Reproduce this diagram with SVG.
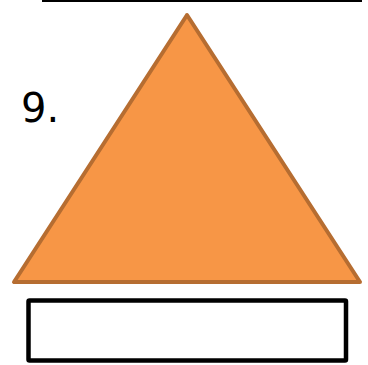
<svg xmlns="http://www.w3.org/2000/svg" width="368" height="365" viewBox="0 0 368 365">
<style>
.lbl{font-family:"DejaVu Sans","Verdana",sans-serif;font-size:40px;fill:#000}
</style>
<rect width="368" height="365" fill="#fff"/>
<g id="topline"><line x1="42" y1="1" x2="362" y2="1" stroke="#000" stroke-width="2"/></g>
<g id="triangle"><polygon points="187,15 14,282 360,282" fill="#F79646" stroke="#B66D31" stroke-width="4" stroke-linejoin="round"/></g>
<g id="label"><text class="lbl" x="21" y="122">9.</text></g>
<g id="box"><rect x="28.5" y="300.5" width="317.5" height="60" fill="#fff" stroke="#000" stroke-width="4.5" rx="1"/></g>
<g id="connectors"></g>
</svg>
